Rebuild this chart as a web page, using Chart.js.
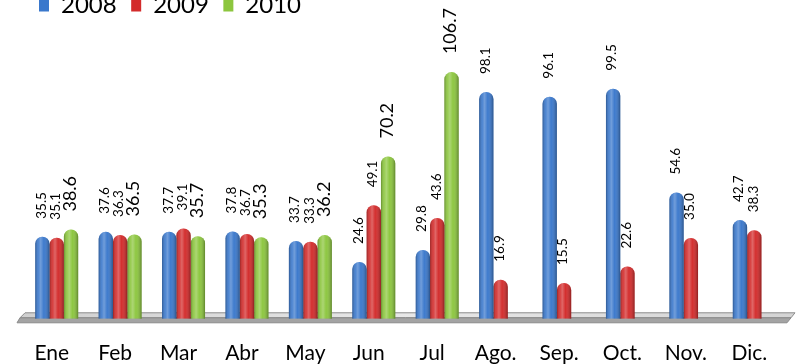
<!DOCTYPE html>
<html>
<head>
<meta charset="utf-8">
<script src="https://cdn.jsdelivr.net/npm/chart.js@4.4.1/dist/chart.umd.min.js"></script>
<style>
  html, body { margin: 0; padding: 0; background: #ffffff; overflow: hidden; width: 799px; height: 364px; }
  #wrap { position: absolute; left: 0; top: -21px; width: 799px; height: 409px; }
</style>
</head>
<body>
<div id="wrap"><canvas id="c"></canvas></div>
<script>
const categories = ['Ene', 'Feb', 'Mar', 'Abr', 'May', 'Jun', 'Jul', 'Ago.', 'Sep.', 'Oct.', 'Nov.', 'Dic.'];
const seriesNames = ['2008', '2009', '2010'];
const values2008 = [35.5, 37.6, 37.7, 37.8, 33.7, 24.6, 29.8, 98.1, 96.1, 99.5, 54.6, 42.7];
const values2009 = [35.1, 36.3, 39.1, 36.7, 33.3, 49.1, 43.6, 16.9, 15.5, 22.6, 35.0, 38.3];
const values2010 = [38.6, 36.5, 35.7, 35.3, 36.2, 70.2, 106.7, null, null, null, null, null];

const colors = ['#3a78cc', '#d32b2b', '#8cc63e'];
const labelSizes = [13.5, 13.5, 18];

// gray "floor" under the bars
const floorPlugin = {
  id: 'floor',
  beforeDatasetsDraw(chart) {
    const { ctx, chartArea } = chart;
    const base = chart.scales.y.getPixelForValue(0);
    const l = chartArea.left - 8, r = chartArea.right + 8;
    const top = base - 6, mid = base - 1, bot = base + 4;
    ctx.save();
    ctx.beginPath();
    ctx.moveTo(l + 8, top);
    ctx.lineTo(r + 1, top);
    ctx.lineTo(r - 3, mid);
    ctx.lineTo(l + 3, mid);
    ctx.closePath();
    const g = ctx.createLinearGradient(l, 0, r, 0);
    g.addColorStop(0, '#cfcfcf');
    g.addColorStop(0.5, '#e8e8e8');
    g.addColorStop(1, '#d4d4d4');
    ctx.fillStyle = g;
    ctx.fill();
    ctx.strokeStyle = '#8c8c8c';
    ctx.lineWidth = 1;
    ctx.stroke();
    ctx.beginPath();
    ctx.moveTo(l + 3, mid);
    ctx.lineTo(r - 3, mid);
    ctx.lineTo(r - 7, bot);
    ctx.lineTo(l, bot);
    ctx.closePath();
    ctx.fillStyle = '#a3a3a3';
    ctx.fill();
    ctx.strokeStyle = '#8a8a8a';
    ctx.stroke();
    ctx.restore();
  }
};

// cylinder shading + rotated value labels
const shadePlugin = {
  id: 'shade',
  afterDatasetsDraw(chart) {
    const { ctx } = chart;
    chart.data.datasets.forEach((ds, di) => {
      const meta = chart.getDatasetMeta(di);
      meta.data.forEach((el, i) => {
        const v = ds.data[i];
        if (v === null || v === undefined) return;
        const p = el.getProps(['x', 'y', 'base', 'width'], true);
        const left = p.x - p.width / 2;
        const r = p.width / 2;
        ctx.save();
        ctx.beginPath();
        ctx.roundRect(left, p.y, p.width, p.base - p.y, [r, r, 0, 0]);
        const g = ctx.createLinearGradient(left, 0, left + p.width, 0);
        g.addColorStop(0, 'rgba(0,0,0,0.28)');
        g.addColorStop(0.22, 'rgba(255,255,255,0.10)');
        g.addColorStop(0.38, 'rgba(255,255,255,0.28)');
        g.addColorStop(0.6, 'rgba(255,255,255,0.02)');
        g.addColorStop(1, 'rgba(0,0,0,0.32)');
        ctx.fillStyle = g;
        ctx.fill();
        ctx.restore();
      });
    });
    chart.data.datasets.forEach((ds, di) => {
      const meta = chart.getDatasetMeta(di);
      meta.data.forEach((el, i) => {
        const v = ds.data[i];
        if (v === null || v === undefined) return;
        const p = el.getProps(['x', 'y'], true);
        ctx.save();
        ctx.translate(p.x - 1, p.y - 18);
        ctx.rotate(-Math.PI / 2);
        ctx.font = labelSizes[di] + 'px Lato';
        ctx.fillStyle = '#000000';
        ctx.textAlign = 'left';
        ctx.textBaseline = 'middle';
        ctx.fillText(v.toFixed(1), 0, 0);
        ctx.restore();
      });
    });
  }
};

new Chart(document.getElementById('c'), {
  type: 'bar',
  data: {
    labels: categories,
    datasets: [
      { label: seriesNames[0], data: values2008, backgroundColor: colors[0] },
      { label: seriesNames[1], data: values2009, backgroundColor: colors[1] },
      { label: seriesNames[2], data: values2010, backgroundColor: colors[2] }
    ].map(d => Object.assign(d, {
      borderWidth: 0,
      borderRadius: { topLeft: 7, topRight: 7, bottomLeft: 0, bottomRight: 0 },
      borderSkipped: 'bottom',
      barPercentage: 1.0,
      categoryPercentage: 0.678
    }))
  },
  options: {
    responsive: true,
    maintainAspectRatio: false,
    animation: false,
    layout: { padding: { left: 24.5, right: 13, top: 0, bottom: 0 } },
    plugins: {
      legend: {
        display: true,
        position: 'top',
        align: 'start',
        labels: {
          boxWidth: 10,
          boxHeight: 12,
          padding: 14.5,
          color: '#000000',
          font: { family: 'Lato', size: 24 }
        }
      },
      tooltip: { enabled: false }
    },
    scales: {
      x: {
        grid: { display: false, drawTicks: false },
        border: { display: false },
        ticks: {
          color: '#000000',
          font: { family: 'Lato', size: 21 },
          padding: 22,
          labelOffset: -5,
          maxRotation: 0,
          autoSkip: false
        }
      },
      y: {
        min: 0,
        max: 126,
        display: true,
        grid: { display: false, drawTicks: false },
        border: { display: false },
        ticks: { display: false },
        afterFit(scale) { scale.width = 0.5; }
      }
    }
  },
  plugins: [floorPlugin, shadePlugin]
});
</script>
</body>
</html>
